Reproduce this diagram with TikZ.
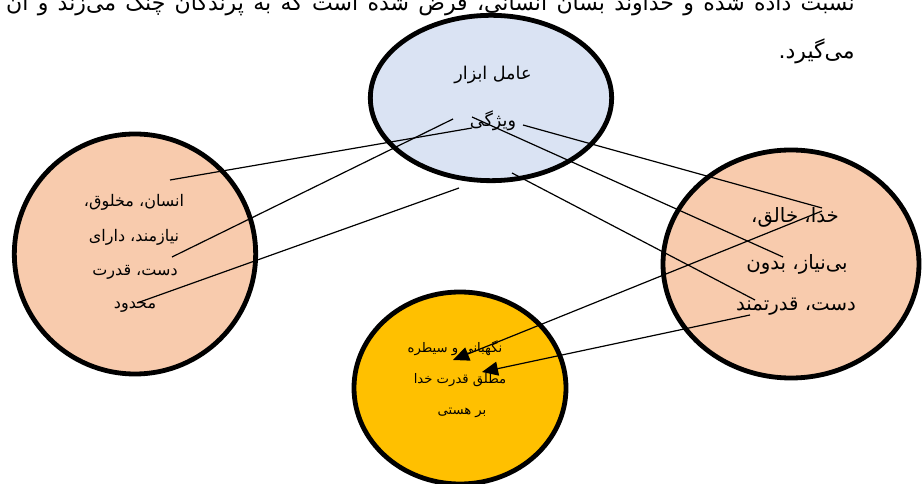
\documentclass[tikz,border=0pt]{standalone}
\usepackage{fontspec}
\newfontfamily\arabicfont[Script=Arabic]{DejaVu Sans}
\TeXXeTstate=1
\usetikzlibrary{shapes.geometric}
\usetikzlibrary{arrows.meta}
\definecolor{toolblue}{HTML}{DAE3F3}
\definecolor{peach}{HTML}{F8CBAD}
\definecolor{amber}{HTML}{FFC000}
\newcommand{\fa}[1]{{\arabicfont\beginR #1\endR}}

\begin{document}
\begin{tikzpicture}[x=0.75pt,y=-0.75pt,
  oval/.style={ellipse,draw=black,line width=3.6pt,inner sep=0pt},
  txt/.style={inner sep=0pt,font=\fontsize{#1}{#1}\selectfont},
  link/.style={black,line width=0.9pt}]
\useasboundingbox (0,0) rectangle (922,484);

% paragraph above the figure
\node[txt=16.5,anchor=base east] (par1) at (855,11) {\spaceskip=7pt\fa{نسبت داده شده و خداوند بسان انسانی، فرض شده است که به پرندگان چنگ می^^^^200cزند و آن}};
\node[txt=16.5,anchor=base east] (par2) at (855,59) {\fa{می^^^^200cگیرد.}};

% the four ovals
\node[oval,fill=toolblue,minimum width=181pt,minimum height=124pt] (tool) at (491,98) {};
\node[oval,fill=peach,minimum width=181pt,minimum height=180pt] (human) at (135,254) {};
\node[oval,fill=peach,minimum width=192pt,minimum height=171pt] (god) at (791,264) {};
\node[oval,fill=amber,minimum width=159pt,minimum height=144pt] (rule) at (460,388) {};

% texts
\node[txt=13.2] (tool1) at (493,75) {\fa{عامل ابزار}};
\node[txt=13.2] (tool2) at (493,121) {\fa{ویژگی}};

\node[txt=12] (human1) at (134,202) {\fa{انسان، مخلوق،}};
\node[txt=12] (human2) at (134,237) {\fa{نیازمند، دارای}};
\node[txt=12] (human3) at (135,272) {\fa{دست، قدرت}};
\node[txt=12] (human4) at (135,307) {\fa{محدود}};

\node[txt=14.8] (god1) at (795,217) {\fa{خدا، خالق،}};
\node[txt=14.8] (god2) at (797,264) {\fa{بی^^^^200cنیاز، بدون}};
\node[txt=14.8] (god3) at (796,307) {\fa{دست، قدرتمند}};

\node[txt=9.9] (rule1) at (455,348) {\fa{نگهبانی و سیطره}};
\node[txt=9.9] (rule2) at (460,380) {\fa{مطلق قدرت خدا}};
\node[txt=9.9] (rule3) at (462,413) {\fa{بر هستی}};

% end points of the links
\coordinate (t1) at (472,128);
\coordinate (t2) at (453,119);
\coordinate (t3) at (459,188);
\coordinate (t4) at (472,117);
\coordinate (t5) at (523,125);
\coordinate (t6) at (512,173);
\coordinate (h1) at (170,180);
\coordinate (h2) at (172,257);
\coordinate (h3) at (137,303);
\coordinate (g1) at (822,208);
\coordinate (g2) at (783,257);
\coordinate (g3) at (755,300);
\coordinate (g4) at (822,211);
\coordinate (g5) at (750,315);
\coordinate (r1) at (453,360);
\coordinate (r2) at (482,372);

\draw[link] (h1) -- (t1);
\draw[link] (h2) -- (t2);
\draw[link] (h3) -- (t3);
\draw[link] (t4) -- (g2);
\draw[link] (t5) -- (g1);
\draw[link] (t6) -- (g3);
\draw[link,-{Triangle[length=12pt,width=10.5pt]}] (g4) -- (r1);
\draw[link,-{Triangle[length=12pt,width=10.5pt]}] (g5) -- (r2);
\end{tikzpicture}
\end{document}
